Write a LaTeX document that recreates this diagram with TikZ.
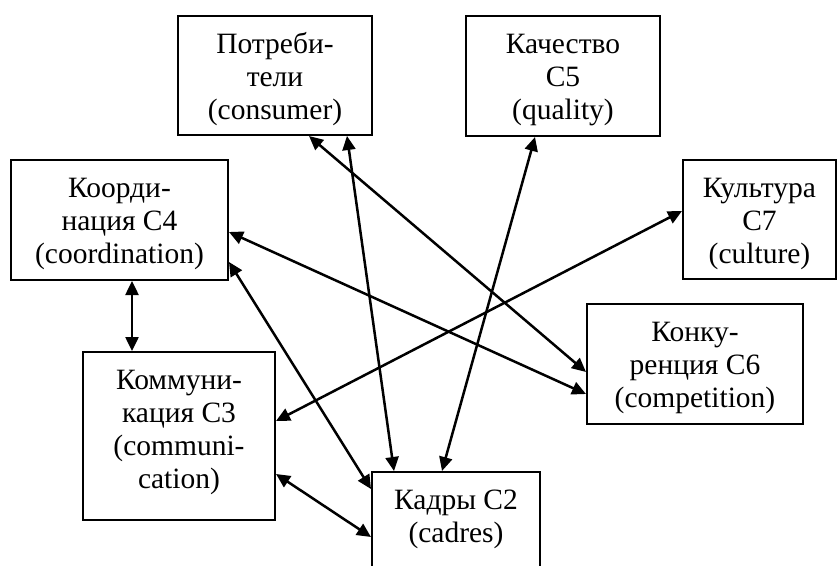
\documentclass[tikz,border=0pt]{standalone}
\usepackage{fontspec}
\setmainfont{Liberation Serif}
\usetikzlibrary{arrows.meta,calc}
\begin{document}
\begin{tikzpicture}[x=1pt,y=-1pt,
  box/.style={draw,line width=2pt,inner sep=0pt,rectangle},
  txt/.style={inner sep=0pt,align=center,anchor=north,font=\fontsize{29.5}{33}\selectfont},
  link/.style={line width=2.5pt,{Triangle[length=14pt,width=13pt]}-{Triangle[length=14pt,width=13pt]}}]
\useasboundingbox (0,0) rectangle (838,565);
% boxes
\node[box,minimum width=194pt,minimum height=119pt] (cons) at (275,75.5) {};
\node[box,minimum width=194pt,minimum height=120pt] (qual) at (563,76) {};
\node[box,minimum width=217pt,minimum height=120pt] (coord) at (119.5,220) {};
\node[box,minimum width=153pt,minimum height=119pt] (cult) at (759.5,219.5) {};
\node[box,minimum width=216pt,minimum height=120pt] (comp) at (695,364) {};
\node[box,minimum width=192pt,minimum height=168pt] (comm) at (179,436) {};
\node[box,minimum width=168pt,minimum height=98pt] (cadr) at (456,521) {};
% texts
\node[txt] (consT) at ([yshift=-15.4pt]cons.north) {\strut Потреби-\\тели\\(consumer)};
\node[txt] (qualT) at ([yshift=-15.4pt]qual.north) {\strut Качество\\C5\\(quality)};
\node[txt] (coordT) at ([yshift=-15.4pt]coord.north) {\strut Коорди-\\нация C4\\(coordination)};
\node[txt] (cultT) at ([yshift=-15.4pt]cult.north) {\strut Культура\\C7\\(culture)};
\node[txt] (compT) at ([yshift=-15.4pt]comp.north) {\strut Конку-\\ренция C6\\(competition)};
\node[txt] (commT) at ([yshift=-15.4pt]comm.north) {\strut Коммуни-\\кация C3\\(communi-\\cation)};
\node[txt] (cadrT) at ([yshift=-15.4pt]cadr.north) {\strut Кадры C2\\(cadres)};
% connector end points
\coordinate (p1a) at ($(cons.south west)+(132,0)$);
\coordinate (p1b) at ($(comp.north west)+(0,69)$);
\coordinate (p2a) at ($(cons.south west)+(170,0)$);
\coordinate (p2b) at ($(cadr.north west)+(23,0)$);
\coordinate (p3a) at ($(qual.south west)+(70,0)$);
\coordinate (p3b) at ($(cadr.north west)+(71,0)$);
\coordinate (p4a) at ($(coord.north east)+(0,73)$);
\coordinate (p4b) at ($(comp.north west)+(0,91)$);
\coordinate (p5a) at ($(coord.north east)+(0,103)$);
\coordinate (p5b) at ($(cadr.north west)+(0,18)$);
\coordinate (p6a) at ($(coord.south west)+(122,0)$);
\coordinate (p6b) at ($(comm.north west)+(50,0)$);
\coordinate (p7a) at ($(comm.north east)+(0,70)$);
\coordinate (p7b) at ($(cult.north west)+(0,52)$);
\coordinate (p8a) at ($(comm.north east)+(0,123)$);
\coordinate (p8b) at ($(cadr.north west)+(0,66)$);
% connectors
\draw[link] (p1a) -- (p1b);
\draw[link] (p2a) -- (p2b);
\draw[link] (p3a) -- (p3b);
\draw[link] (p4a) -- (p4b);
\draw[link] (p5a) -- (p5b);
\draw[link] (p6a) -- (p6b);
\draw[link] (p7a) -- (p7b);
\draw[link] (p8a) -- (p8b);
\end{tikzpicture}
\end{document}
